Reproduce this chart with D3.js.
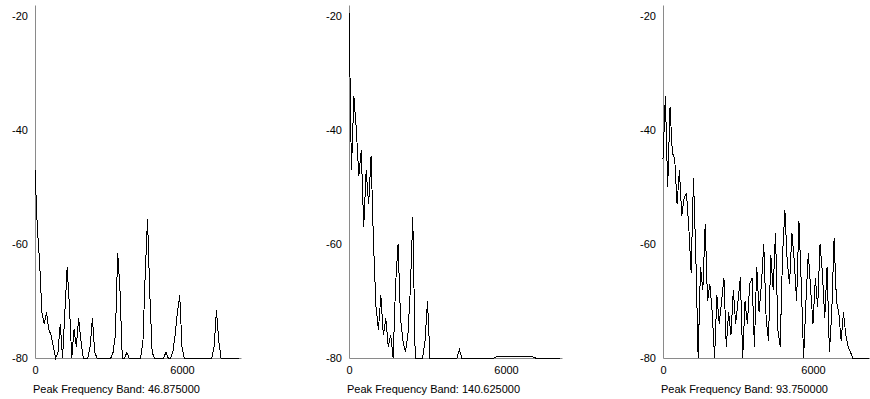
<!DOCTYPE html>
<html>
<head>
<meta charset="utf-8">
<script src="https://cdn.jsdelivr.net/npm/d3@7"></script>
<style>
  body { margin: 0; background: #fff; }
  svg { display: block; }
  text { font-family: "Liberation Sans", Arial, sans-serif; font-size: 11px; fill: #000; }
</style>
</head>
<body>
<svg width="870" height="399"></svg>
<script>
// spectrum bins, 93.75 Hz apart (two 46.875 Hz FFT bands per point), levels in dB
var binHz = 93.75;
var yTicks = [-20, -40, -60, -80];
var xTicks = [0, 6000];
var peakBands = ["46.875000", "140.625000", "93.750000"];

var spectrum1 = [-47, -57, -63, -72, -74, -72, -75, -76, -78, -80,
                 -79, -74, -80, -72, -64, -71, -80, -75, -78, -73,
                 -77, -80, -80, -80, -78, -73, -79, -80, -80, -80,
                 -80, -80, -80, -80, -79, -76, -61.6, -68, -80, -80,
                 -79, -80, -80, -80, -80, -80, -80, -77, -65, -55.6,
                 -69, -79, -80, -80, -80, -80, -80, -79, -80, -80,
                 -79, -76, -72, -69, -78, -80, -80, -80, -80, -80,
                 -80, -80, -80, -80, -80, -80, -80, -80, -78, -71.6,
                 -77, -80, -80, -80, -80, -80, -80, -80, -80, -80];

var spectrum2 = [-19, -47, -34, -40, -48, -43.5, -57, -47, -53, -44.5,
                 -60, -71, -75, -69, -76, -73, -78, -76, -80, -67,
                 -60, -73, -77, -79, -76, -68, -55.3, -80, -80, -80,
                 -80, -77, -70, -80, -80, -80, -80, -80, -80, -80,
                 -80, -80, -80, -80, -80, -78.5, -80, -80, -80, -80,
                 -80, -80, -80, -80, -80, -80, -80, -80, -80, -80,
                 -79.8, -79.8, -79.8, -79.8, -79.8, -79.8, -79.8, -79.8, -79.8, -79.8,
                 -79.8, -79.8, -79.8, -79.8, -79.8, -79.8, -80, -80, -80, -80,
                 -80, -80, -80, -80, -80, -80, -80];

var spectrum3 = [-45, -34, -50, -36, -44, -45, -53, -47, -55, -52,
                 -51, -57, -65, -48.4, -62, -80, -64, -68, -56.5, -70,
                 -67, -72, -80, -69, -74, -70, -66, -78, -72, -76,
                 -68, -74, -70, -65.8, -80, -70, -74, -67, -66, -78,
                 -64, -72, -67, -60, -73, -77, -62, -68, -58, -75,
                 -78, -62, -54, -63, -67, -58, -63, -70, -56, -67,
                 -80, -70, -61.5, -68, -74, -66, -71, -60, -65, -73,
                 -64, -79, -72, -59, -70, -72, -77, -72, -76, -78,
                 -79, -80, -80, -80, -80, -80, -80, -80, -80];

var series = [spectrum1, spectrum2, spectrum3];

// panel placement: y-axis x position, pixel of 6000 Hz, right end of x-axis
var panels = [
  {left: 35, at6000: 182, right: 241},
  {left: 349, at6000: 506, right: 562},
  {left: 663, at6000: 813, right: 870}
];
var plotTop = 5, plotBottom = 358;

var svg = d3.select("svg");

var yScale = d3.scaleLinear().domain([-80, -18]).range([plotBottom, plotTop]);

panels.forEach(function(p, k) {
  var fMax = 6000 * (p.right - p.left) / (p.at6000 - p.left);
  var xScale = d3.scaleLinear().domain([0, fMax]).range([p.left, p.right]);

  var g = svg.append("g").attr("class", "panel" + k);

  var data = series[k].map(function(v, i) { return {f: i * binHz, db: v}; });

  var line = d3.line()
    .x(function(d) { return xScale(d.f); })
    .y(function(d) { return yScale(d.db); });

  g.append("g")
    .attr("transform", "translate(" + p.left + ",0)")
    .call(d3.axisLeft(yScale).tickValues(yTicks).tickSize(0).tickPadding(7).tickFormat(String));

  g.append("g")
    .attr("transform", "translate(0," + plotBottom + ")")
    .call(d3.axisBottom(xScale).tickValues(xTicks).tickSize(0).tickPadding(8).tickFormat(String));

  g.selectAll(".domain").attr("stroke", "#8a8a8a").attr("stroke-width", 1);
  g.selectAll(".tick text").style("font-family", "Liberation Sans, Arial, sans-serif").style("font-size", "11px").attr("fill", "#000");

  g.append("path")
    .datum(data)
    .attr("fill", "none")
    .attr("stroke", "#000")
    .attr("stroke-width", 1)
    .attr("shape-rendering", "crispEdges")
    .attr("d", line);

  g.append("text")
    .attr("x", p.left - 2)
    .attr("y", 393)
    .text("Peak Frequency Band: " + peakBands[k]);
});
</script>
</body>
</html>
